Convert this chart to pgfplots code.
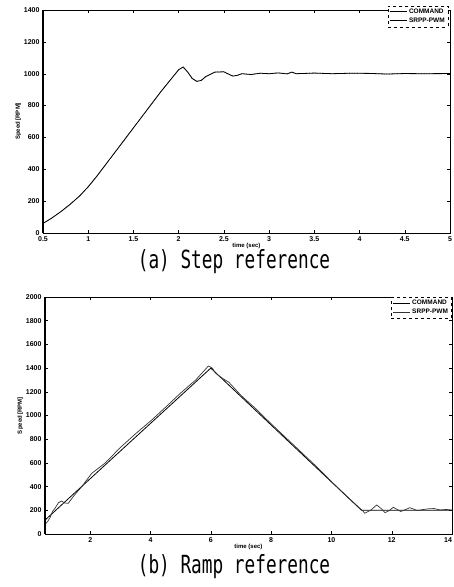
\documentclass[border=0pt]{standalone}
\usepackage{pgfplots}
\pgfplotsset{compat=1.18}
\usepackage{fontspec}
\setmainfont{Liberation Sans}
\newfontfamily\capfont{DejaVu Sans Mono}

\pgfplotsset{
  scanstyle/.style={
    anchor=south west, scale only axis,
    axis line style={line width=0.5pt},
    tick style={black, line width=0.4pt},
    major tick length=3pt,
    tick label style={font=\fontsize{7}{7}\selectfont\bfseries},
    /pgf/number format/assume math mode=true,
    /pgf/number format/1000 sep={},
    label style={font=\fontsize{6}{6}\selectfont\bfseries},
    ylabel style={yshift=-4pt},
    xlabel style={yshift=5pt},
    legend style={font=\fontsize{6.5}{6.5}\selectfont\bfseries, draw=black, dashed,
      inner sep=1pt, row sep=-1pt, legend cell align=left},
    legend image post style={solid},
    after end axis/.code={\draw[line width=1.3pt] (rel axis cs:0,0) -- (rel axis cs:0,1);},
  }
}

\begin{document}
\begin{tikzpicture}
\useasboundingbox (0pt,0pt) rectangle (453pt,587pt);

% (a) step reference
\begin{axis}[scanstyle,
  at={(43pt,354pt)}, width=407pt, height=223pt,
  xmin=0.5, xmax=5, ymin=0, ymax=1400,
  xtick={0.5,1,...,5}, ytick={0,200,...,1400},
  xlabel={time (sec)}, ylabel={Speed [RPM]},
  legend style={at={(0.995,1.02)}, anchor=north east},
]
\addplot[black, line width=0.8pt] coordinates {
  (0.5,60) (0.6,95) (0.7,135) (0.8,180) (0.9,230) (1.0,290) (1.1,360)
  (1.2,435) (1.3,510) (1.4,585) (1.5,660) (1.6,735) (1.7,810) (1.8,885)
  (1.9,955) (1.95,990) (2.0,1025) (2.05,1042) (2.1,1010) (2.15,970)
  (2.2,952) (2.25,958) (2.3,982) (2.4,1010) (2.5,1012) (2.55,998)
  (2.6,985) (2.65,990) (2.7,1000) (2.8,995) (2.9,1003) (3.0,1000)
  (3.1,1005) (3.2,999) (3.25,1010) (3.3,1000) (3.5,1004) (3.7,1000)
  (3.9,1003) (4.1,1002) (4.3,998) (4.5,1001) (4.7,1000) (5.0,1001)
};
\addlegendentry{COMMAND}
\addplot[black, densely dotted, line width=0.6pt] coordinates {
  (0.5,60) (0.6,95) (0.7,135) (0.8,180) (0.9,230) (1.0,290) (1.1,360)
  (1.2,435) (1.3,510) (1.4,585) (1.5,660) (1.6,735) (1.7,810) (1.8,885)
  (1.9,955) (1.95,990) (2.0,1025) (2.05,1042) (2.1,1010) (2.15,970)
  (2.2,952) (2.25,958) (2.3,982) (2.4,1010) (2.5,1012) (2.55,998)
  (2.6,985) (2.65,990) (2.7,1000) (2.8,995) (2.9,1003) (3.0,1000)
  (3.1,1005) (3.2,999) (3.25,1010) (3.3,1000) (3.5,1004) (3.7,1000)
  (3.9,1003) (4.1,1002) (4.3,998) (4.5,1001) (4.7,1000) (5.0,1001)
};
\addlegendentry{SRPP-PWM}
\end{axis}
\node[font=\capfont\fontsize{25}{25}\selectfont, xscale=0.71] at (234pt,325pt) {(a) Step reference};

% (b) ramp reference
\begin{axis}[scanstyle,
  at={(45pt,53pt)}, width=407pt, height=237pt,
  xmin=0.5, xmax=14, ymin=0, ymax=2000,
  xtick={2,4,...,14}, xticklabels={2,4,6,8,10,12,\llap{14}},
  ytick={0,200,...,2000},
  xlabel={time (sec)}, ylabel={Speed [RPM]},
  legend style={at={(0.998,1.0)}, anchor=north east},
]
\addplot[black, line width=0.8pt] coordinates {
  (0.5,117) (6.0,1400) (11.0,200) (14.0,200)
};
\addlegendentry{COMMAND}
\addplot[black!80, line width=0.7pt] coordinates {
  (0.5,80) (0.6,110) (0.67,140) (0.75,190) (0.83,217) (0.95,265)
  (1.05,278) (1.15,262) (1.27,259) (1.45,320) (1.72,400) (2.05,512)
  (2.5,600) (3.0,730) (3.5,845) (4.04,962) (4.5,1070) (5.0,1190)
  (5.5,1300) (5.92,1418) (6.05,1400) (6.15,1360) (6.3,1328) (6.6,1280)
  (7.0,1170) (7.5,1055) (8.0,930) (8.5,810) (9.0,690) (9.5,570)
  (10.06,428) (10.5,320) (10.8,250) (11.06,190) (11.1,175) (11.3,200)
  (11.5,245) (11.65,215) (11.78,180) (11.9,195) (12.05,225) (12.2,205)
  (12.3,190) (12.45,205) (12.6,222) (12.75,208) (12.85,198) (13.0,205)
  (13.2,212) (13.4,215) (13.6,203) (13.8,207) (14.0,202)
};
\addlegendentry{SRPP-PWM}
\end{axis}
\node[font=\capfont\fontsize{25}{25}\selectfont, xscale=0.71] at (234pt,20pt) {(b) Ramp reference};
\end{tikzpicture}
\end{document}
